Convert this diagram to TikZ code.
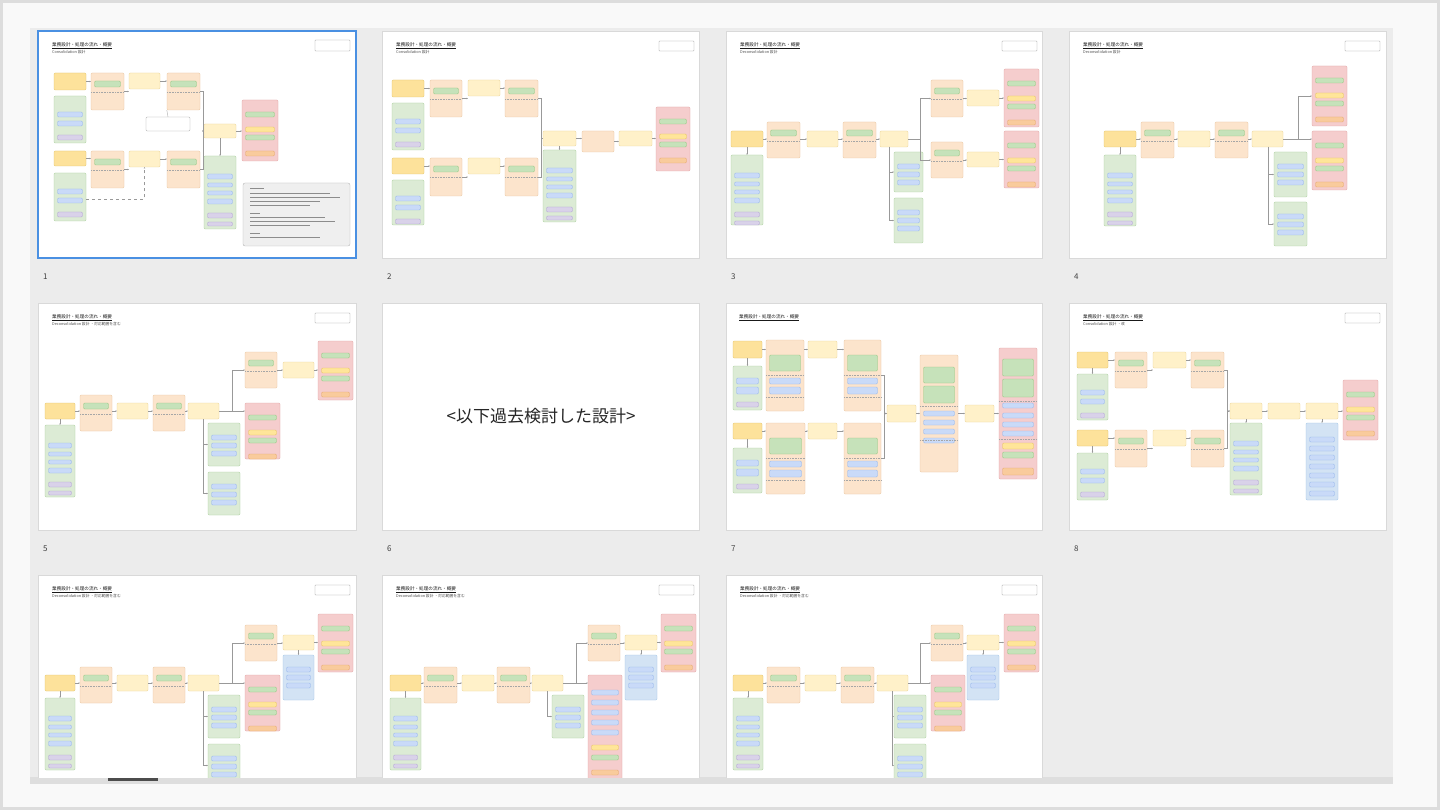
\documentclass[tikz,border=0pt]{standalone}
\usepackage{fontspec}
\newfontfamily\jp{Noto Sans CJK JP}
\usetikzlibrary{fit,arrows.meta,calc}
\definecolor{cA}{HTML}{FDE29B}\definecolor{cAd}{HTML}{E3C267}
\definecolor{cY}{HTML}{FFF1C9}\definecolor{cYd}{HTML}{EBD393}
\definecolor{cO}{HTML}{FCE4CC}\definecolor{cOd}{HTML}{E9C39D}
\definecolor{cG}{HTML}{DCEBD5}\definecolor{cGd}{HTML}{A9CE9B}
\definecolor{cR}{HTML}{F5CDCD}\definecolor{cRd}{HTML}{E0A3A3}
\definecolor{cB}{HTML}{D3E3F4}\definecolor{cBd}{HTML}{9FC3E6}
\definecolor{pB}{HTML}{C9DAF8}\definecolor{pBd}{HTML}{93B4EA}
\definecolor{pP}{HTML}{D9D2E9}\definecolor{pPd}{HTML}{AFA2D2}
\definecolor{pG}{HTML}{C6E2BA}\definecolor{pGd}{HTML}{93C47D}
\definecolor{pY}{HTML}{FFE599}\definecolor{pYd}{HTML}{E6C15C}
\definecolor{pO}{HTML}{F9CB9C}\definecolor{pOd}{HTML}{E5A66B}
\definecolor{bgo}{HTML}{F9F9F9}\definecolor{bgb}{HTML}{DDDDDD}
\definecolor{bgp}{HTML}{ECECEC}\definecolor{selb}{HTML}{4A90E2}
\definecolor{nt}{HTML}{EFEFEF}
\tikzset{
 base/.style={inner sep=0pt, rounded corners=1.2pt, line width=0.35pt},
 sy/.style={base, fill=cA, draw=cAd},
 py/.style={base, fill=cY, draw=cYd},
 ob/.style={base, fill=cO, draw=cOd},
 gs/.style={base, fill=cG, draw=cGd},
 rs/.style={base, fill=cR, draw=cRd},
 bs/.style={base, fill=cB, draw=cBd},
 bpl/.style={base, fill=pB, draw=pBd},
 ppl/.style={base, fill=pP, draw=pPd},
 gpl/.style={base, fill=pG, draw=pGd},
 ypl/.style={base, fill=pY, draw=pYd},
 opl/.style={base, fill=pO, draw=pOd},
 callout/.style={base, fill=white, draw=black!35},
 note/.style={base, rounded corners=2pt, fill=nt, draw=black!30},
 btn/.style={base, rounded corners=0.6pt, fill=white, draw=black!40},
 slide/.style={inner sep=0pt, fill=white, draw=black!15, line width=0.7pt},
 cn/.style={draw=black!40, line width=0.3pt},
 cna/.style={cn, -{Stealth[length=1.4pt,width=1.4pt]}},
 sepl/.style={draw=black!35, line width=0.25pt, dash pattern=on 0.8pt off 0.8pt},
 ttl/.style={font=\jp\fontsize{4.6}{5}\selectfont, text=black!90, anchor=north west, inner sep=0pt},
 sub/.style={font=\jp\fontsize{3.8}{4.2}\selectfont, text=black!70, anchor=north west, inner sep=0pt},
 num/.style={font=\jp\fontsize{8}{9}\selectfont, text=black!75, anchor=west, inner sep=0pt},
}
\newcommand\bx[6]{\node[#1, fit={(#3,#4) (#5,#6)}] (#2) {};}
\newcommand\stk[7]{\bx{#1}{#2}{#3}{#4}{#5}{#6}%
 \foreach \ps/\pa/\pb [count=\pk] in #7 {\node[\ps, fit={(#3+3.5,#4+\pa) (#5-3.5,#4+\pb)}] (#2-\pk) {};}}
\def\PGs{bpl/16/21,bpl/25/30,ppl/39/44}
\def\PGt{bpl/18/23,bpl/27/31,bpl/35/39,bpl/43/48,ppl/57/62,ppl/66/70}
\def\PGm{bpl/12/17,bpl/20/25,bpl/28/33}
\def\PRd{gpl/12/17,ypl/27/32,gpl/35/40,opl/51/56}
\def\POo{gpl/8/14}
\def\PGv{bpl/12/18,bpl/21/28,ppl/36/41}
\def\POa{gpl/15/31,bpl/38/44,bpl/47/54}
\def\POt{gpl/12/28,gpl/31/48,bpl/56/61,bpl/65/70,bpl/74/79,bpl/83/88}
\def\PRt{gpl/11/28,gpl/31/49,bpl/55/60,bpl/65/70,bpl/74/79,bpl/83/88,ypl/95/101,gpl/104/110,opl/120/127}
\def\PBt{bpl/14/19,bpl/23/28,bpl/32/37,bpl/41/46,bpl/50/55,bpl/59/64,bpl/68/73}
\def\PRx{bpl/15/20,bpl/25/30,bpl/35/40,bpl/45/50,bpl/55/60,ypl/70/75,gpl/80/85,opl/95/100}
\newcommand\obx[5]{\stk{ob}{#1}{#2}{#3}{#4}{#5}{\POo}\draw[sepl] (#2,#3+19) -- (#4,#3+19);}
\newcommand\obt[5]{\stk{ob}{#1}{#2}{#3}{#4}{#5}{\POa}\draw[sepl] (#2,#3+35) -- (#4,#3+35);\draw[sepl] (#2,#3+57) -- (#4,#3+57);}
\newcommand\hc[2]{\draw[cna] (#1.east) -- (#1.east -| #2.west);}
\newcommand\hcb[2]{\draw[cna] (#1.east |- #2.west) -- (#2.west);}
\newcommand\vc[2]{\draw[cna] (#1.south) -- (#1.south |- #2.north);}
\newcommand\jc[2]{\draw[cna] (#1.east) -- ++(3,0) |- (#2.west);}
\newcommand\ttlA{業務設計・処理の流れ・概要}
\begin{document}
\begin{tikzpicture}[x=1pt,y=-1pt]
\useasboundingbox (0,0) rectangle (1440,810);
\fill[bgb] (0,0) rectangle (1440,810);
\fill[bgo] (3,3) rectangle (1437,807);
\fill[bgp] (30,28) rectangle (1393,778);
\fill[black!13] (30,777) rectangle (1393,784);
\fill[black!70] (108,777.5) rectangle (158,781);
\begin{scope}
\clip (30,28) rectangle (1393,777);
% ---------- slide frames
\bx{slide}{sl2}{382}{31}{699}{258}
\bx{slide}{sl3}{726}{31}{1042}{258}
\bx{slide}{sl4}{1069}{31}{1386}{258}
\bx{slide}{sl5}{38}{303}{356}{530}
\bx{slide}{sl6}{382}{303}{699}{530}
\bx{slide}{sl7}{726}{303}{1042}{530}
\bx{slide}{sl8}{1069}{303}{1386}{530}
\bx{slide}{sl9}{38}{575}{356}{802}
\bx{slide}{sl10}{382}{575}{699}{802}
\bx{slide}{sl11}{726}{575}{1042}{802}
\node[slide, draw=selb, line width=1.8pt, fit={(38,31) (356,258)}] (sl1) {};
% ---------- titles and buttons
\node[ttl] (s1t) at (52,42) {\underline{\ttlA}};
\node[sub] (s1s) at (52,50) {Consolidation 設計};
\node[ttl] (s2t) at (396,42) {\underline{\ttlA}};
\node[sub] (s2s) at (396,50) {Consolidation 設計};
\node[ttl] (s3t) at (740,42) {\underline{\ttlA}};
\node[sub] (s3s) at (740,50) {Deconsolidation 設計};
\node[ttl] (s4t) at (1083,42) {\underline{\ttlA}};
\node[sub] (s4s) at (1083,50) {Deconsolidation 設計};
\node[ttl] (s5t) at (52,314) {\underline{\ttlA}};
\node[sub] (s5s) at (52,322) {Deconsolidation 設計 ・対応範囲を含む};
\node[ttl] (s7t) at (739,314) {\underline{\ttlA}};
\node[ttl] (s8t) at (1083,314) {\underline{\ttlA}};
\node[sub] (s8s) at (1083,322) {Consolidation 設計 ・改};
\node[ttl] (s9t) at (52,586) {\underline{\ttlA}};
\node[sub] (s9s) at (52,594) {Deconsolidation 設計 ・対応範囲を含む};
\node[ttl] (s10t) at (396,586) {\underline{\ttlA}};
\node[sub] (s10s) at (396,594) {Deconsolidation 設計 ・対応範囲を含む};
\node[ttl] (s11t) at (740,586) {\underline{\ttlA}};
\node[sub] (s11s) at (740,594) {Deconsolidation 設計 ・対応範囲を含む};
\bx{btn}{s1b}{315}{40}{350}{51}
\bx{btn}{s2b}{659}{41}{694}{51}
\bx{btn}{s3b}{1002}{41}{1037}{51}
\bx{btn}{s4b}{1345}{41}{1380}{51}
\bx{btn}{s5b}{315}{313}{350}{323}
\bx{btn}{s8b}{1345}{313}{1380}{323}
\bx{btn}{s9b}{315}{585}{350}{595}
\bx{btn}{s10b}{659}{585}{694}{595}
\bx{btn}{s11b}{1002}{585}{1037}{595}
% ---------- slide 1
\bx{sy}{s1a1}{54}{73}{86}{90}
\stk{gs}{s1g1}{54}{96}{86}{143}{\PGs}
\obx{s1o1}{91}{73}{124}{110}
\bx{py}{s1y1}{129}{73}{160}{89}
\obx{s1o2}{167}{73}{200}{110}
\bx{callout}{s1k}{146}{117}{190}{131}
\bx{py}{s1yc}{204}{124}{236}{138}
\stk{rs}{s1r}{242}{100}{278}{161}{\PRd}
\bx{sy}{s1a2}{54}{151}{86}{166}
\stk{gs}{s1g2}{54}{173}{86}{221}{\PGs}
\obx{s1o3}{91}{151}{124}{188}
\bx{py}{s1y2}{129}{151}{160}{167}
\obx{s1o4}{167}{151}{200}{188}
\stk{gs}{s1g3}{204}{156}{236}{229}{\PGt}
\bx{note}{s1n}{243}{183}{350}{246}
\foreach \yy/\ll in {188/14,193/80,197/90,201/70,205/60,213/10,217/75,221/85,225/60,233/10,237/70}
  \draw[black!45, line width=0.7pt] (250,\yy) -- ++(\ll,0);
\hc{s1a1}{s1o1}\hc{s1o1}{s1y1}\hc{s1y1}{s1o2}
\hc{s1a2}{s1o3}\hc{s1o3}{s1y2}\hc{s1y2}{s1o4}
\jc{s1o2}{s1yc}\jc{s1o4}{s1yc}
\hc{s1yc}{s1r}\vc{s1yc}{s1g3}
\draw[cna, dashed] (s1g2.east) ++(0,2) -| (s1y2.south);
\draw[cn] (s1k.north) -- (s1o2.south west);
% ---------- slide 2
\bx{sy}{s2a1}{392}{80}{424}{97}
\stk{gs}{s2g1}{392}{103}{424}{150}{\PGs}
\obx{s2o1}{430}{80}{462}{117}
\bx{py}{s2y1}{468}{80}{500}{96}
\obx{s2o2}{505}{80}{538}{117}
\bx{sy}{s2a2}{392}{158}{424}{174}
\stk{gs}{s2g2}{392}{180}{424}{225}{\PGs}
\obx{s2o3}{430}{158}{462}{196}
\bx{py}{s2y2}{468}{158}{500}{174}
\obx{s2o4}{505}{158}{538}{196}
\bx{py}{s2yc}{543}{131}{576}{146}
\stk{gs}{s2g3}{543}{150}{576}{222}{\PGt}
\bx{ob}{s2o5}{582}{131}{614}{152}
\bx{py}{s2yd}{619}{131}{652}{146}
\stk{rs}{s2r}{656}{107}{690}{171}{\PRd}
\hc{s2a1}{s2o1}\hc{s2o1}{s2y1}\hc{s2y1}{s2o2}
\hc{s2a2}{s2o3}\hc{s2o3}{s2y2}\hc{s2y2}{s2o4}
\jc{s2o2}{s2yc}\jc{s2o4}{s2yc}
\hc{s2yc}{s2o5}\hc{s2o5}{s2yd}\hc{s2yd}{s2r}\vc{s2yc}{s2g3}
% ---------- slide 3
\bx{sy}{s3a1}{731}{131}{763}{147}
\stk{gs}{s3g1}{731}{155}{763}{225}{\PGt}
\obx{s3o1}{767}{122}{800}{158}
\bx{py}{s3y1}{807}{131}{838}{147}
\obx{s3o2}{843}{122}{876}{158}
\bx{py}{s3yj}{880}{131}{908}{147}
\obx{s3oU}{931}{80}{963}{117}
\bx{py}{s3yU}{967}{90}{999}{106}
\stk{rs}{s3rU}{1004}{69}{1039}{127}{\PRd}
\obx{s3oD}{931}{142}{963}{178}
\bx{py}{s3yD}{967}{152}{999}{167}
\stk{rs}{s3rD}{1004}{131}{1039}{188}{\PRd}
\stk{gs}{s3gA}{894}{152}{923}{192}{\PGm}
\stk{gs}{s3gB}{894}{198}{923}{243}{\PGm}
\vc{s3a1}{s3g1}
\hc{s3a1}{s3o1}\hcb{s3o1}{s3y1}\hc{s3y1}{s3o2}\hcb{s3o2}{s3yj}
\coordinate (s3v) at (889,147);
\coordinate (s3h) at (920,139);
\draw[cn] (s3yj.east) -- (s3h);
\draw[cna] (s3h) |- (s3oU.west);
\draw[cna] (s3h) |- (s3oD.west);
\draw[cna] (s3v) |- (s3gA.west);
\draw[cna] (s3v) |- (s3gB.west);
\hc{s3oU}{s3yU}\hc{s3yU}{s3rU}\hc{s3oD}{s3yD}\hc{s3yD}{s3rD}
% ---------- slide 4
\bx{sy}{s4a1}{1104}{131}{1136}{147}
\stk{gs}{s4g1}{1104}{155}{1136}{226}{\PGt}
\obx{s4o1}{1141}{122}{1174}{158}
\bx{py}{s4y1}{1178}{131}{1210}{147}
\obx{s4o2}{1215}{122}{1248}{158}
\bx{py}{s4yj}{1252}{131}{1283}{147}
\stk{rs}{s4rU}{1312}{66}{1347}{126}{\PRd}
\stk{rs}{s4rD}{1312}{131}{1347}{190}{\PRd}
\stk{gs}{s4gA}{1274}{152}{1307}{197}{\PGm}
\stk{gs}{s4gB}{1274}{202}{1307}{246}{\PGm}
\vc{s4a1}{s4g1}
\hc{s4a1}{s4o1}\hcb{s4o1}{s4y1}\hc{s4y1}{s4o2}\hcb{s4o2}{s4yj}
\hc{s4yj}{s4rD}
\coordinate (s4h) at (1298,139);
\coordinate (s4v) at (1268,147);
\draw[cna] (s4h) |- (s4rU.west);
\draw[cna] (s4v) |- (s4gA.west);
\draw[cna] (s4v) |- (s4gB.west);
% ---------- slide 5
\bx{sy}{s5a1}{45}{403}{75}{419}
\stk{gs}{s5g1}{45}{425}{75}{497}{\PGt}
\obx{s5o1}{80}{395}{112}{431}
\bx{py}{s5y1}{117}{403}{148}{419}
\obx{s5o2}{153}{395}{185}{431}
\bx{py}{s5yj}{188}{403}{219}{419}
\obx{s5oU}{245}{352}{277}{388}
\bx{py}{s5yU}{283}{362}{314}{378}
\stk{rs}{s5rU}{318}{341}{353}{400}{\PRd}
\stk{rs}{s5rD}{245}{403}{280}{459}{\PRd}
\stk{gs}{s5gA}{208}{423}{240}{466}{\PGm}
\stk{gs}{s5gB}{208}{472}{240}{515}{\PGm}
\vc{s5a1}{s5g1}
\hc{s5a1}{s5o1}\hcb{s5o1}{s5y1}\hc{s5y1}{s5o2}\hcb{s5o2}{s5yj}
\hc{s5yj}{s5rD}
\coordinate (s5h) at (232,411);
\coordinate (s5v) at (203,419);
\draw[cna] (s5h) |- (s5oU.west);
\draw[cna] (s5v) |- (s5gA.west);
\draw[cna] (s5v) |- (s5gB.west);
\hc{s5oU}{s5yU}\hc{s5yU}{s5rU}
% ---------- slide 6
\node[font=\jp\fontsize{17}{19}\selectfont, text=black!85, inner sep=0pt] (s6t) at (541,416) {<以下過去検討した設計>};
% ---------- slide 7
\bx{sy}{s7a1}{733}{341}{762}{358}
\stk{gs}{s7g1}{733}{366}{762}{410}{\PGv}
\obt{s7oA}{766}{340}{804}{411}
\bx{py}{s7yA}{808}{341}{837}{358}
\obt{s7oB}{844}{340}{881}{411}
\bx{sy}{s7a2}{733}{423}{762}{439}
\stk{gs}{s7g2}{733}{448}{762}{493}{\PGv}
\obt{s7oC}{766}{423}{805}{494}
\bx{py}{s7yB}{808}{423}{837}{439}
\obt{s7oD}{844}{423}{881}{494}
\bx{py}{s7yc}{887}{405}{916}{422}
\stk{ob}{s7oT}{920}{355}{958}{472}{\POt}
\draw[sepl] (920,406) -- (958,406);
\draw[sepl] (920,440) -- (958,440);
\bx{py}{s7yd}{965}{405}{994}{422}
\stk{rs}{s7rT}{999}{348}{1037}{479}{\PRt}
\draw[sepl] (999,401) -- (1037,401);
\draw[sepl] (999,439) -- (1037,439);
\vc{s7a1}{s7g1}\vc{s7a2}{s7g2}
\hc{s7a1}{s7oA}\hcb{s7oA}{s7yA}\hc{s7yA}{s7oB}
\hc{s7a2}{s7oC}\hcb{s7oC}{s7yB}\hc{s7yB}{s7oD}
\jc{s7oB}{s7yc}\jc{s7oD}{s7yc}
\hc{s7yc}{s7oT}\hcb{s7oT}{s7yd}\hc{s7yd}{s7rT}
% ---------- slide 8
\bx{sy}{s8a1}{1077}{352}{1108}{368}
\stk{gs}{s8g1}{1077}{374}{1108}{420}{\PGs}
\obx{s8o1}{1115}{352}{1147}{388}
\bx{py}{s8y1}{1153}{352}{1186}{368}
\obx{s8o2}{1191}{352}{1224}{388}
\bx{sy}{s8a2}{1077}{430}{1108}{446}
\stk{gs}{s8g2}{1077}{453}{1108}{500}{\PGs}
\obx{s8o3}{1115}{430}{1147}{467}
\bx{py}{s8y2}{1153}{430}{1186}{446}
\obx{s8o4}{1191}{430}{1224}{467}
\bx{py}{s8yc}{1230}{403}{1262}{419}
\stk{gs}{s8g3}{1230}{423}{1262}{495}{\PGt}
\bx{py}{s8yd}{1268}{403}{1300}{419}
\bx{py}{s8ye}{1306}{403}{1338}{419}
\stk{bs}{s8b}{1306}{423}{1338}{500}{\PBt}
\stk{rs}{s8r}{1343}{380}{1378}{440}{\PRd}
\vc{s8a1}{s8g1}\vc{s8a2}{s8g2}
\hc{s8a1}{s8o1}\hc{s8o1}{s8y1}\hc{s8y1}{s8o2}
\hc{s8a2}{s8o3}\hc{s8o3}{s8y2}\hc{s8y2}{s8o4}
\jc{s8o2}{s8yc}\jc{s8o4}{s8yc}
\hc{s8yc}{s8yd}\hc{s8yd}{s8ye}\hc{s8ye}{s8r}
\vc{s8yc}{s8g3}\vc{s8ye}{s8b}
% ---------- slide 9
\bx{sy}{s9a1}{45}{675}{75}{691}
\stk{gs}{s9g1}{45}{698}{75}{770}{\PGt}
\obx{s9o1}{80}{667}{112}{703}
\bx{py}{s9y1}{117}{675}{148}{691}
\obx{s9o2}{153}{667}{185}{703}
\bx{py}{s9yj}{188}{675}{219}{691}
\obx{s9oU}{245}{625}{277}{661}
\bx{py}{s9yU}{283}{635}{314}{650}
\stk{rs}{s9rU}{318}{614}{353}{672}{\PRd}
\stk{bs}{s9bU}{283}{655}{314}{700}{\PGm}
\stk{rs}{s9rD}{245}{675}{280}{731}{\PRd}
\stk{gs}{s9gA}{208}{695}{240}{738}{\PGm}
\stk{gs}{s9gB}{208}{744}{240}{787}{\PGm}
\vc{s9a1}{s9g1}
\hc{s9a1}{s9o1}\hcb{s9o1}{s9y1}\hc{s9y1}{s9o2}\hcb{s9o2}{s9yj}
\hc{s9yj}{s9rD}
\coordinate (s9h) at (232,683);
\coordinate (s9v) at (203,691);
\draw[cna] (s9h) |- (s9oU.west);
\draw[cna] (s9v) |- (s9gA.west);
\draw[cna] (s9v) |- (s9gB.west);
\hc{s9oU}{s9yU}\hc{s9yU}{s9rU}\vc{s9yU}{s9bU}
% ---------- slide 10
\bx{sy}{s10a1}{390}{675}{421}{691}
\stk{gs}{s10g1}{390}{698}{421}{770}{\PGt}
\obx{s10o1}{424}{667}{457}{703}
\bx{py}{s10y1}{462}{675}{494}{691}
\obx{s10o2}{497}{667}{530}{703}
\bx{py}{s10yj}{532}{675}{563}{691}
\obx{s10oU}{588}{625}{620}{661}
\bx{py}{s10yU}{625}{635}{657}{650}
\stk{rs}{s10rU}{661}{614}{696}{672}{\PRd}
\stk{bs}{s10bU}{625}{655}{657}{700}{\PGm}
\stk{rs}{s10rT}{588}{675}{622}{800}{\PRx}
\stk{gs}{s10gA}{552}{695}{584}{738}{\PGm}
\vc{s10a1}{s10g1}
\hc{s10a1}{s10o1}\hcb{s10o1}{s10y1}\hc{s10y1}{s10o2}\hcb{s10o2}{s10yj}
\hc{s10yj}{s10rT}
\coordinate (s10h) at (576,683);
\coordinate (s10v) at (547,691);
\draw[cna] (s10h) |- (s10oU.west);
\draw[cna] (s10v) |- (s10gA.west);
\hc{s10oU}{s10yU}\hc{s10yU}{s10rU}\vc{s10yU}{s10bU}
% ---------- slide 11
\bx{sy}{s11a1}{733}{675}{763}{691}
\stk{gs}{s11g1}{733}{698}{763}{770}{\PGt}
\obx{s11o1}{767}{667}{800}{703}
\bx{py}{s11y1}{805}{675}{836}{691}
\obx{s11o2}{841}{667}{874}{703}
\bx{py}{s11yj}{877}{675}{908}{691}
\obx{s11oU}{931}{625}{963}{661}
\bx{py}{s11yU}{967}{635}{999}{650}
\stk{rs}{s11rU}{1004}{614}{1039}{672}{\PRd}
\stk{bs}{s11bU}{967}{655}{999}{700}{\PGm}
\stk{rs}{s11rD}{931}{675}{965}{731}{\PRd}
\stk{gs}{s11gA}{894}{695}{926}{738}{\PGm}
\stk{gs}{s11gB}{894}{744}{926}{787}{\PGm}
\vc{s11a1}{s11g1}
\hc{s11a1}{s11o1}\hcb{s11o1}{s11y1}\hc{s11y1}{s11o2}\hcb{s11o2}{s11yj}
\hc{s11yj}{s11rD}
\coordinate (s11h) at (920,683);
\coordinate (s11v) at (892,691);
\draw[cna] (s11h) |- (s11oU.west);
\draw[cna] (s11v) |- (s11gA.west);
\draw[cna] (s11v) |- (s11gB.west);
\hc{s11oU}{s11yU}\hc{s11yU}{s11rU}\vc{s11yU}{s11bU}
% ---------- slide numbers
\node[num] (n1) at (43,277) {1};
\node[num] (n2) at (387,277) {2};
\node[num] (n3) at (731,277) {3};
\node[num] (n4) at (1074,277) {4};
\node[num] (n5) at (43,549) {5};
\node[num] (n6) at (387,549) {6};
\node[num] (n7) at (731,549) {7};
\node[num] (n8) at (1074,549) {8};
\end{scope}
\end{tikzpicture}
\end{document}
